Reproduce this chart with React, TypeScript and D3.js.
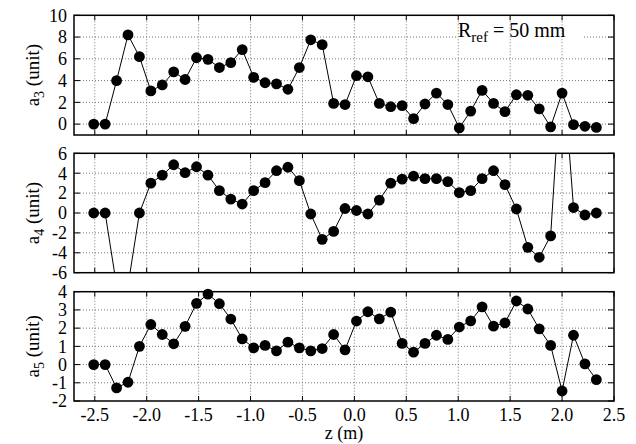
import React, { useEffect, useRef } from "react";
import * as d3 from "d3";

// measurement positions along the axis (m)
const zPos = [
  -2.51, -2.4, -2.29, -2.18, -2.07, -1.96, -1.85, -1.74, -1.63, -1.52, -1.41, -1.3, -1.19, -1.08, -0.97,
  -0.86, -0.75, -0.64, -0.53, -0.42, -0.31, -0.2, -0.09, 0.02, 0.13, 0.24, 0.35, 0.46, 0.57, 0.68,
  0.79, 0.9, 1.01, 1.12, 1.23, 1.34, 1.45, 1.56, 1.67, 1.78, 1.89, 2.0, 2.11, 2.22, 2.33,
];

const a3 = [
  0, 0, 4.0, 8.2, 6.2, 3.05, 3.6, 4.8, 4.1, 6.1, 5.95, 5.2, 5.65, 6.85, 4.3,
  3.8, 3.7, 3.2, 5.2, 7.75, 7.3, 1.9, 1.8, 4.45, 4.35, 1.9, 1.6, 1.7, 0.5, 1.85,
  2.85, 1.8, -0.35, 1.2, 3.1, 1.9, 1.15, 2.7, 2.65, 1.4, -0.25, 2.85, -0.05, -0.2, -0.3,
];

const a4 = [
  0, 0, -7.3, -7.3, 0, 3.0, 3.8, 4.85, 4.05, 4.65, 3.8, 2.25, 1.4, 0.9, 2.25,
  3.05, 4.25, 4.6, 3.25, -0.1, -2.65, -1.85, 0.45, 0.25, -0.1, 1.3, 3.0, 3.4, 3.7, 3.45,
  3.45, 3.15, 2.05, 2.25, 3.45, 4.25, 2.85, 0.4, -3.45, -4.45, -2.3, 15.8, 0.55, -0.2, 0,
];

const a5 = [
  0, 0, -1.28, -0.97, 1.0, 2.2, 1.65, 1.14, 2.1, 3.36, 3.87, 3.34, 2.5, 1.41, 0.92,
  1.05, 0.75, 1.23, 0.92, 0.75, 0.88, 1.65, 0.81, 2.39, 2.9, 2.51, 2.88, 1.16, 0.68, 1.16,
  1.61, 1.38, 2.06, 2.4, 3.17, 2.11, 2.29, 3.49, 3.05, 1.96, 1.05, -1.45, 1.61, 0.04, -0.83,
];

const xTicks = [-2.5, -2.0, -1.5, -1.0, -0.5, 0.0, 0.5, 1.0, 1.5, 2.0, 2.5];

const panels = [
  { name: "3", values: a3, domain: [-1, 10], ticks: [0, 2, 4, 6, 8, 10], top: 15.3, bottom: 135 },
  { name: "4", values: a4, domain: [-6, 6], ticks: [-6, -4, -2, 0, 2, 4, 6], top: 153.3, bottom: 272.7 },
  { name: "5", values: a5, domain: [-2, 4], ticks: [-2, -1, 0, 1, 2, 3, 4], top: 291.7, bottom: 401 },
];

const FONT = '"Liberation Serif", "DejaVu Serif", Times, serif';

const App = () => {
  const svgRef = useRef<SVGSVGElement>(null);

  useEffect(() => {
    const svg = d3.select(svgRef.current);
    svg.selectAll("*").remove();

    const width = 636;
    const height = 444;
    const left = 74;
    const right = 614;

    svg.attr("width", width).attr("height", height).attr("font-family", FONT);

    const x = d3.scaleLinear().domain([-2.7, 2.5]).range([left, right]);

    panels.forEach((p, pi) => {
      const y = d3.scaleLinear().domain(p.domain).range([p.bottom, p.top]);
      const g = svg.append("g");

      // grid
      g.selectAll("line.hgrid")
        .data(p.ticks.filter(t => t > p.domain[0] && t < p.domain[1]))
        .enter()
        .append("line")
        .attr("x1", left)
        .attr("x2", right)
        .attr("y1", d => y(d))
        .attr("y2", d => y(d))
        .attr("stroke", "#777")
        .attr("stroke-width", 1)
        .attr("stroke-dasharray", "1,2");

      if (pi === 0) {
        g.append("rect")
          .attr("x", 456)
          .attr("y", 22)
          .attr("width", 126)
          .attr("height", 22)
          .attr("fill", "white");
      }

      g.selectAll("line.vgrid")
        .data(xTicks.filter(t => x(t) > left && x(t) < right))
        .enter()
        .append("line")
        .attr("x1", d => x(d))
        .attr("x2", d => x(d))
        .attr("y1", p.top)
        .attr("y2", p.bottom)
        .attr("stroke", "#777")
        .attr("stroke-width", 1)
        .attr("stroke-dasharray", "1,2");

      // ticks (mirrored, inward)
      p.ticks.forEach(t => {
        g.append("line").attr("x1", left).attr("x2", left + 6).attr("y1", y(t)).attr("y2", y(t)).attr("stroke", "black");
        g.append("line").attr("x1", right).attr("x2", right - 6).attr("y1", y(t)).attr("y2", y(t)).attr("stroke", "black");
      });
      xTicks.forEach(t => {
        g.append("line").attr("x1", x(t)).attr("x2", x(t)).attr("y1", p.bottom).attr("y2", p.bottom - 5).attr("stroke", "black");
        g.append("line").attr("x1", x(t)).attr("x2", x(t)).attr("y1", p.top).attr("y2", p.top + 5).attr("stroke", "black");
      });

      // y tick labels
      g.selectAll("text.ytick")
        .data(p.ticks)
        .enter()
        .append("text")
        .attr("x", 67)
        .attr("y", d => y(d))
        .attr("dy", "0.35em")
        .attr("text-anchor", "end")
        .attr("font-family", FONT)
        .attr("font-size", 18)
        .text(d => String(d));

      // data line, clipped to the panel
      const clipId = `clip-${pi}`;
      svg.append("clipPath")
        .attr("id", clipId)
        .append("rect")
        .attr("x", left)
        .attr("y", p.top)
        .attr("width", right - left)
        .attr("height", p.bottom - p.top);

      const pts = zPos.map((z, i) => [z, p.values[i]] as [number, number]);
      const line = d3.line<[number, number]>().x(d => x(d[0])).y(d => y(d[1]));

      g.append("path")
        .attr("d", line(pts))
        .attr("fill", "none")
        .attr("stroke", "black")
        .attr("stroke-width", 1)
        .attr("clip-path", `url(#${clipId})`);

      // frame
      g.append("rect")
        .attr("x", left)
        .attr("y", p.top)
        .attr("width", right - left)
        .attr("height", p.bottom - p.top)
        .attr("fill", "none")
        .attr("stroke", "black")
        .attr("stroke-width", 1.5);

      g.selectAll("circle")
        .data(pts.filter(d => d[1] >= p.domain[0] && d[1] <= p.domain[1]))
        .enter()
        .append("circle")
        .attr("cx", d => x(d[0]))
        .attr("cy", d => y(d[1]))
        .attr("r", 5.4)
        .attr("fill", "black");

      // y axis label
      const lab = g.append("text")
        .attr("transform", `translate(39, ${(p.top + p.bottom) / 2}) rotate(-90)`)
        .attr("text-anchor", "middle")
        .attr("font-family", FONT)
        .attr("font-size", 19);
      lab.append("tspan").text("a");
      lab.append("tspan").attr("dy", 5).attr("font-size", 14).text(p.name);
      lab.append("tspan").attr("dy", -5).text(" (unit)");
    });

    // x tick labels
    svg.selectAll("text.xtick")
      .data(xTicks)
      .enter()
      .append("text")
      .attr("x", d => x(d))
      .attr("y", 421)
      .attr("text-anchor", "middle")
      .attr("font-family", FONT)
      .attr("font-size", 18)
      .text(d => d.toFixed(1));

    svg.append("text")
      .attr("x", (left + right) / 2)
      .attr("y", 439)
      .attr("text-anchor", "middle")
      .attr("font-family", FONT)
      .attr("font-size", 18)
      .text("z (m)");

    // annotation
    const ann = svg.append("text")
      .attr("x", 458)
      .attr("y", 37)
      .attr("font-family", FONT)
      .attr("font-size", 20);
    ann.append("tspan").text("R");
    ann.append("tspan").attr("dy", 5).attr("font-size", 15).text("ref");
    ann.append("tspan").attr("dy", -5).text(" = 50 mm");
  }, []);

  return (
    <svg
      ref={svgRef}
      style={{ position: "absolute", left: 0, top: 0, background: "white" }}
    />
  );
};

export default App;
